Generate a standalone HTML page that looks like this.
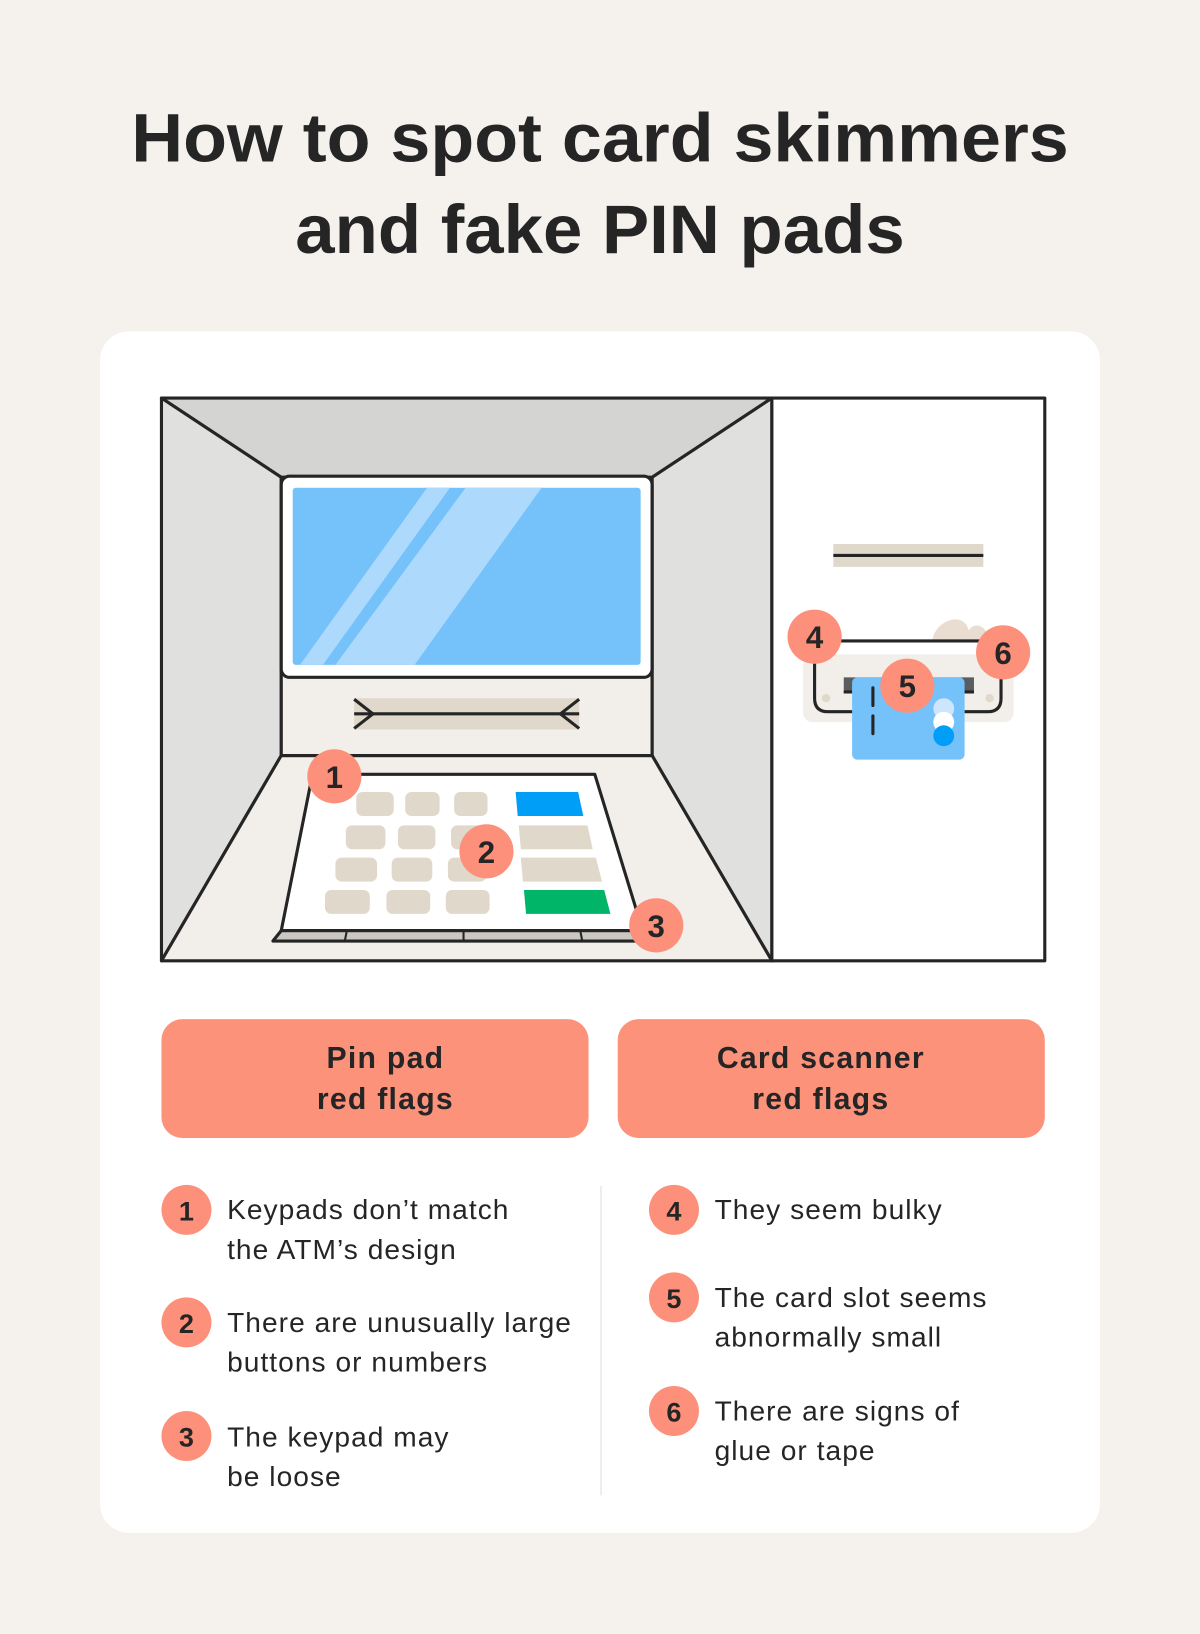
<!DOCTYPE html>
<html><head><meta charset="utf-8"><style>
html,body{margin:0;padding:0;background:#f5f2ee;}
svg{display:block;}
text{font-family:"Liberation Sans",sans-serif;fill:#252525;}
</style></head><body>
<svg width="1200" height="1634" viewBox="0 0 1152 1568" preserveAspectRatio="none" xmlns="http://www.w3.org/2000/svg">
<rect width="1152" height="1568" fill="#f5f2ee"/>
<text x="576" y="155" font-size="66" font-weight="bold" text-anchor="middle" textLength="900" lengthAdjust="spacingAndGlyphs">How to spot card skimmers</text>
<text x="576" y="243" font-size="66" font-weight="bold" text-anchor="middle" textLength="585" lengthAdjust="spacingAndGlyphs">and fake PIN pads</text>
<rect x="96" y="318" width="960" height="1153" rx="28" fill="#fff"/>

<g stroke="#252525" stroke-width="3" stroke-linejoin="round">
<polygon points="155,382 741,382 626,458 270,458" fill="#d4d4d2"/>
<polygon points="155,382 270,458 270,725 155,922" fill="#e0e0de"/>
<polygon points="741,382 626,458 626,725 741,922" fill="#e0e0de"/>
<polygon points="270,725 626,725 741,922 155,922" fill="#f2efea"/>
<rect x="270" y="458" width="356" height="267" fill="#f2efea"/>
<rect x="270" y="457" width="356" height="193" rx="8" fill="#fff"/>
<rect x="741" y="382" width="262" height="540" fill="#fff"/>
</g>
<rect x="281" y="468" width="334" height="170" rx="3" fill="#75c2fb"/>
<polygon points="288,638 410,468 432,468 310,638" fill="#acd9fc"/>
<polygon points="322,638 447,468 520,468 398,638" fill="#acd9fc"/>
<rect x="340" y="670" width="216" height="30" fill="#e0d8cb"/>
<g stroke="#252525" stroke-width="3" fill="none">
<line x1="340" y1="685" x2="556" y2="685"/>
<polyline points="340,671 358,685 340,699"/>
<polyline points="556,671 538,685 556,699"/>
</g>
<polygon points="270,893 617,893 620,903 262,903" fill="#cbc8c3" stroke="#252525" stroke-width="3" stroke-linejoin="round"/>
<g stroke="#252525" stroke-width="2"><line x1="333" y1="893" x2="331" y2="903"/><line x1="445" y1="893" x2="445" y2="903"/><line x1="557" y1="893" x2="559" y2="903"/></g>
<polygon points="300,743 571,743 617,893 270,893" fill="#fff" stroke="#252525" stroke-width="3" stroke-linejoin="round"/>
<g fill="#e0d8cb">
<rect x="342" y="760" width="36" height="23" rx="6"/><rect x="389" y="760" width="33" height="23" rx="6"/><rect x="436" y="760" width="32" height="23" rx="6"/>
<rect x="332" y="792" width="38" height="23" rx="6"/><rect x="382" y="792" width="36" height="23" rx="6"/><rect x="433" y="792" width="34" height="23" rx="6"/>
<rect x="322" y="823" width="40" height="23" rx="6"/><rect x="376" y="823" width="39" height="23" rx="6"/><rect x="430" y="823" width="37" height="23" rx="6"/>
<rect x="312" y="854" width="43" height="23" rx="6"/><rect x="371" y="854" width="42" height="23" rx="6"/><rect x="428" y="854" width="42" height="23" rx="6"/>
<polygon points="498,792 564,792 569,815 500,815"/>
<polygon points="500,823 572,823 578,846 502,846"/>
</g>
<polygon points="495,760 555,760 560,783 497,783" fill="#009ef7"/>
<polygon points="503,854 580,854 586,877 505,877" fill="#00b567"/>

<rect x="800" y="522" width="144" height="22" fill="#e0d8cb"/>
<line x1="800" y1="533" x2="944" y2="533" stroke="#252525" stroke-width="3"/>
<rect x="771" y="628" width="202" height="65" rx="9" fill="#f2efea"/>
<path d="M895,615 C897,596 925,585 930,605 C935,596 948,600 950,615 Z" fill="#e8ddd0"/>
<circle cx="793" cy="670" r="4" fill="#e0d8cb"/><circle cx="950" cy="670" r="4" fill="#e0d8cb"/>
<rect x="810" y="650" width="125" height="15" fill="#5a5d60"/>
<path d="M820,683 L795,683 Q782,683 782,670 L782,615 L961,615 L961,670 Q961,683 948,683 L926,683" fill="none" stroke="#252525" stroke-width="3"/>
<line x1="810" y1="664" x2="935" y2="664" stroke="#252525" stroke-width="3"/>
<rect x="818" y="650" width="108" height="79" rx="5" fill="#75c2fb"/>
<g stroke="#252525" stroke-width="3" stroke-linecap="round"><line x1="838" y1="660" x2="838" y2="677"/><line x1="838" y1="687" x2="838" y2="704"/></g>
<circle cx="906" cy="680" r="10" fill="#cde6fc"/><circle cx="906" cy="693" r="10" fill="#fff"/><circle cx="906" cy="706" r="10" fill="#009ef7"/>

<g font-size="30" font-weight="bold" text-anchor="middle">
<circle cx="321" cy="745" r="26" fill="#fd907a"/><text x="321" y="756">1</text>
<circle cx="467" cy="817" r="26" fill="#fd907a"/><text x="467" y="828">2</text>
<circle cx="630" cy="888" r="26" fill="#fd907a"/><text x="630" y="899">3</text>
<circle cx="782" cy="611" r="26" fill="#fd907a"/><text x="782" y="622">4</text>
<circle cx="871" cy="658" r="26" fill="#fd907a"/><text x="871" y="669">5</text>
<circle cx="963" cy="626" r="26" fill="#fd907a"/><text x="963" y="637">6</text>
</g>

<rect x="155" y="978" width="410" height="114" rx="20" fill="#fd927b"/>
<rect x="593" y="978" width="410" height="114" rx="20" fill="#fd927b"/>
<g font-size="29" font-weight="bold" text-anchor="middle" letter-spacing="1.2">
<text x="370" y="1025">Pin pad</text><text x="370" y="1064">red flags</text>
<text x="788" y="1025">Card scanner</text><text x="788" y="1064">red flags</text>
</g>
<line x1="577" y1="1138" x2="577" y2="1435" stroke="#eeeeee" stroke-width="2"/>

<g font-size="26" font-weight="bold" text-anchor="middle">
<circle cx="179" cy="1161" r="24" fill="#fd907a"/><text x="179" y="1171">1</text>
<circle cx="179" cy="1269" r="24" fill="#fd907a"/><text x="179" y="1279">2</text>
<circle cx="179" cy="1378" r="24" fill="#fd907a"/><text x="179" y="1388">3</text>
<circle cx="647" cy="1161" r="24" fill="#fd907a"/><text x="647" y="1171">4</text>
<circle cx="647" cy="1245" r="24" fill="#fd907a"/><text x="647" y="1255">5</text>
<circle cx="647" cy="1354" r="24" fill="#fd907a"/><text x="647" y="1364">6</text>
</g>
<g font-size="27" letter-spacing="1">
<text x="218" y="1170">Keypads don’t match</text>
<text x="218" y="1208">the ATM’s design</text>
<text x="218" y="1278">There are unusually large</text>
<text x="218" y="1316">buttons or numbers</text>
<text x="218" y="1388">The keypad may</text>
<text x="218" y="1426">be loose</text>
<text x="686" y="1170">They seem bulky</text>
<text x="686" y="1254">The card slot seems</text>
<text x="686" y="1292">abnormally small</text>
<text x="686" y="1363">There are signs of</text>
<text x="686" y="1401">glue or tape</text>
</g>
</svg>
</body></html>
